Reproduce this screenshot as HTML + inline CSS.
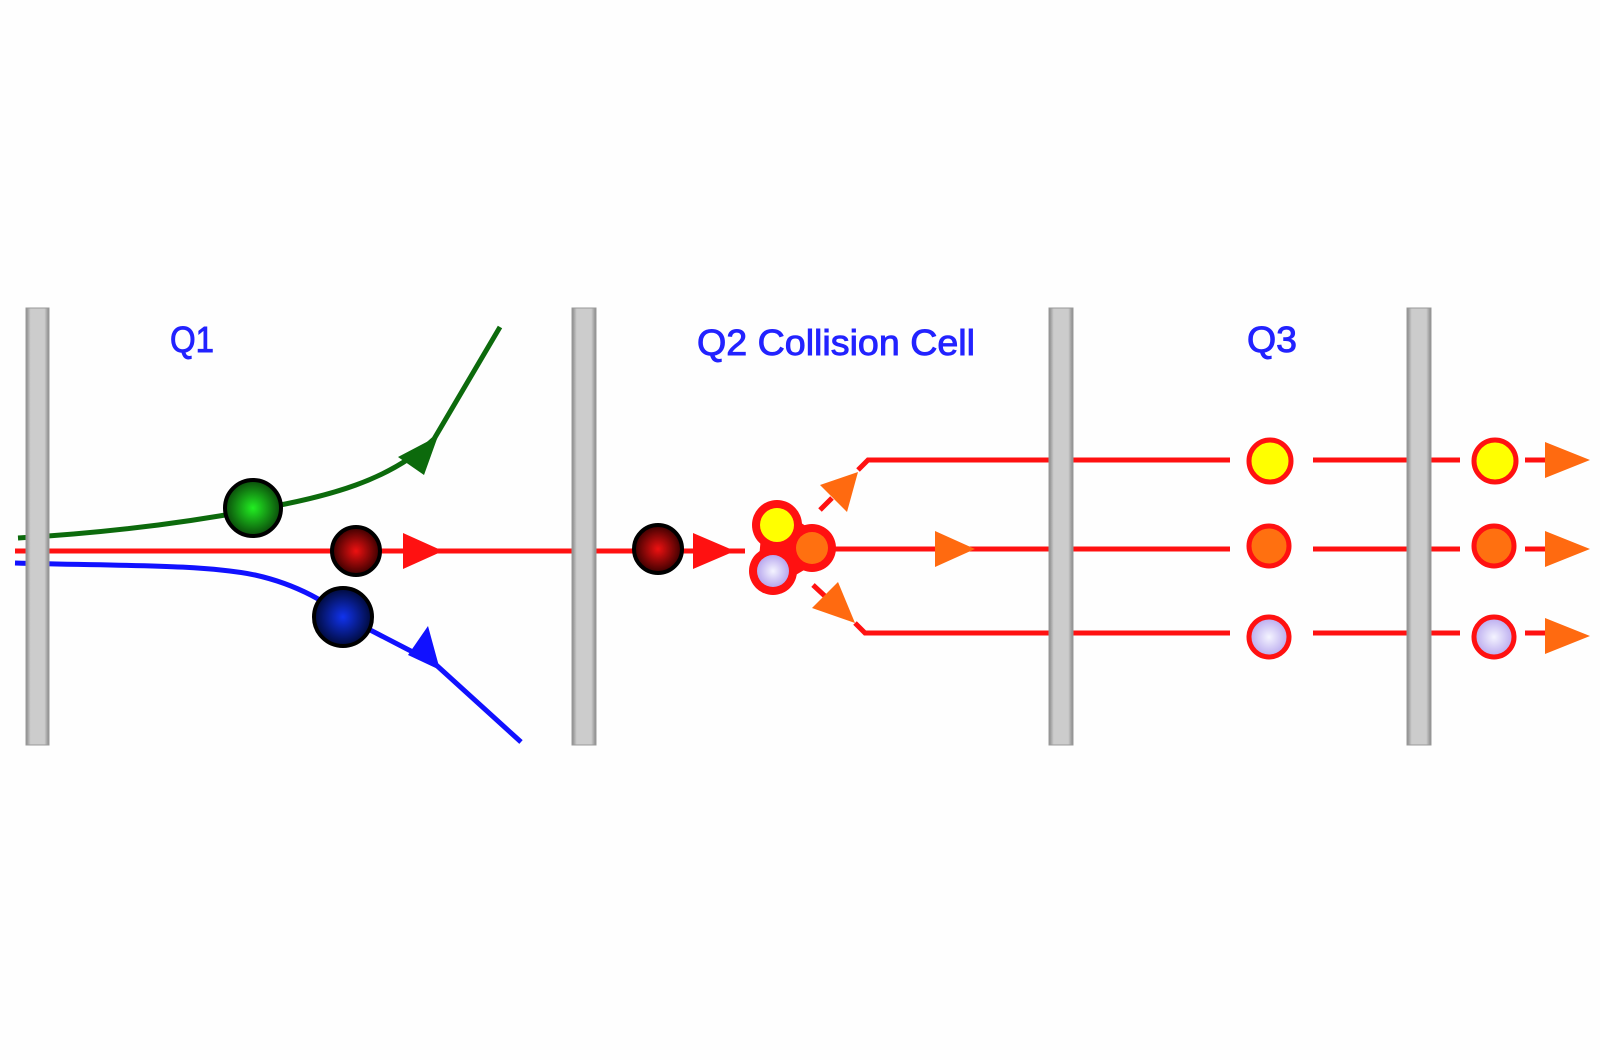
<!DOCTYPE html>
<html><head><meta charset="utf-8"><style>
html,body{margin:0;padding:0;background:#fff;}
svg{display:block;}
</style></head><body>
<svg width="1600" height="1060" viewBox="0 0 1600 1060" xmlns="http://www.w3.org/2000/svg">
<defs>
<radialGradient id="gG" cx="50%" cy="50%" r="50%"><stop offset="0" stop-color="#22ee22"/><stop offset="1" stop-color="#0a4a0a"/></radialGradient>
<radialGradient id="gR" cx="50%" cy="50%" r="50%"><stop offset="0" stop-color="#ee1111"/><stop offset="1" stop-color="#3a0000"/></radialGradient>
<radialGradient id="gB" cx="50%" cy="50%" r="50%"><stop offset="0" stop-color="#1133ee"/><stop offset="1" stop-color="#000a3a"/></radialGradient>
<radialGradient id="gL" cx="50%" cy="50%" r="50%"><stop offset="0" stop-color="#f4f4ff"/><stop offset="1" stop-color="#b8a8ee"/></radialGradient>
<linearGradient id="bar" x1="0" x2="1"><stop offset="0" stop-color="#888"/><stop offset="0.2" stop-color="#ccc"/><stop offset="0.8" stop-color="#ccc"/><stop offset="1" stop-color="#888"/></linearGradient>
</defs>
<rect width="1600" height="1060" fill="#fefefe"/>
<g font-family="Liberation Sans, sans-serif" fill="#2222ff" stroke="#2222ff" stroke-width="0.9" font-size="36">
<text x="170" y="352" textLength="44" lengthAdjust="spacingAndGlyphs">Q1</text>
<text x="697" y="355" textLength="278" lengthAdjust="spacingAndGlyphs">Q2 Collision Cell</text>
<text x="1247" y="352" textLength="50" lengthAdjust="spacingAndGlyphs">Q3</text>
</g>
<g fill="none" stroke-width="5">
<path d="M18 538 C120 532 200 520 253 510 C330 497 390 480 434 439 L500 327" stroke="#0c6a0c"/>
<path d="M15 563 C120 566 200 564 255 575 C300 585 330 605 345 617 L434 663 L521 742" stroke="#1111ff"/>
<path d="M15 551 L745 551" stroke="#ff1111"/>
<path d="M835 549 L1230 549 M1313 549 L1460 549 M1525 549 L1545 549" stroke="#ff1111"/>
<path d="M858 470 L868 460 L1230 460 M1313 460 L1460 460 M1525 460 L1545 460" stroke="#ff1111"/>
<path d="M855 623 L865 633 L1230 633 M1313 633 L1460 633 M1525 633 L1545 633" stroke="#ff1111"/>
<path d="M820 510 L832 498 M813 585 L827 598" stroke="#ff1111" stroke-width="5"/>
</g>
<g stroke="#999" stroke-width="1">
<rect x="26" y="308" width="23" height="437" fill="url(#bar)"/>
<rect x="572" y="308" width="24" height="437" fill="url(#bar)"/>
<rect x="1049" y="308" width="24" height="437" fill="url(#bar)"/>
<rect x="1407" y="308" width="24" height="437" fill="url(#bar)"/>
</g>
<polygon points="438,436 398,457 424,475" fill="#0c6a0c"/>
<polygon points="440,670 408,655 428,626" fill="#1111ff"/>
<polygon points="443,551 403,533 403,569" fill="#ff1111"/>
<polygon points="735,551 693,533 693,569" fill="#ff1111"/>
<polygon points="820,485 858,472 847,512" fill="#ff6a10"/>
<polygon points="812,608 838,582 855,623" fill="#ff6a10"/>
<polygon points="975,549 935,531 935,567" fill="#ff6a10"/>
<polygon points="1590,460 1545,442 1545,478" fill="#ff6a10"/>
<polygon points="1590,549 1545,531 1545,567" fill="#ff6a10"/>
<polygon points="1590,636 1545,618 1545,654" fill="#ff6a10"/>
<g stroke="#000" stroke-width="4">
<circle cx="253" cy="508" r="28" fill="url(#gG)"/>
<circle cx="356" cy="551" r="24" fill="url(#gR)"/>
<circle cx="343" cy="617" r="29" fill="url(#gB)"/>
<circle cx="658" cy="549" r="24" fill="url(#gR)"/>
</g>
<g fill="#ff1111">
<circle cx="777" cy="525" r="25"/><circle cx="812" cy="548" r="24"/><circle cx="773" cy="571" r="24"/>
<polygon points="777,525 812,548 773,571" stroke="#ff1111" stroke-width="30" stroke-linejoin="round"/>
</g>
<circle cx="777" cy="525" r="17" fill="#ffff00"/>
<circle cx="812" cy="548" r="16" fill="#ff7010"/>
<circle cx="773" cy="571" r="16" fill="url(#gL)"/>
<g stroke="#ff1111" stroke-width="5">
<circle cx="1270" cy="461" r="21" fill="#ffff00"/>
<circle cx="1269" cy="546" r="20" fill="#ff7010"/>
<circle cx="1269" cy="637" r="20" fill="url(#gL)"/>
<circle cx="1495" cy="461" r="21" fill="#ffff00"/>
<circle cx="1494" cy="546" r="20" fill="#ff7010"/>
<circle cx="1494" cy="637" r="20" fill="url(#gL)"/>
</g>
</svg>
</body></html>
